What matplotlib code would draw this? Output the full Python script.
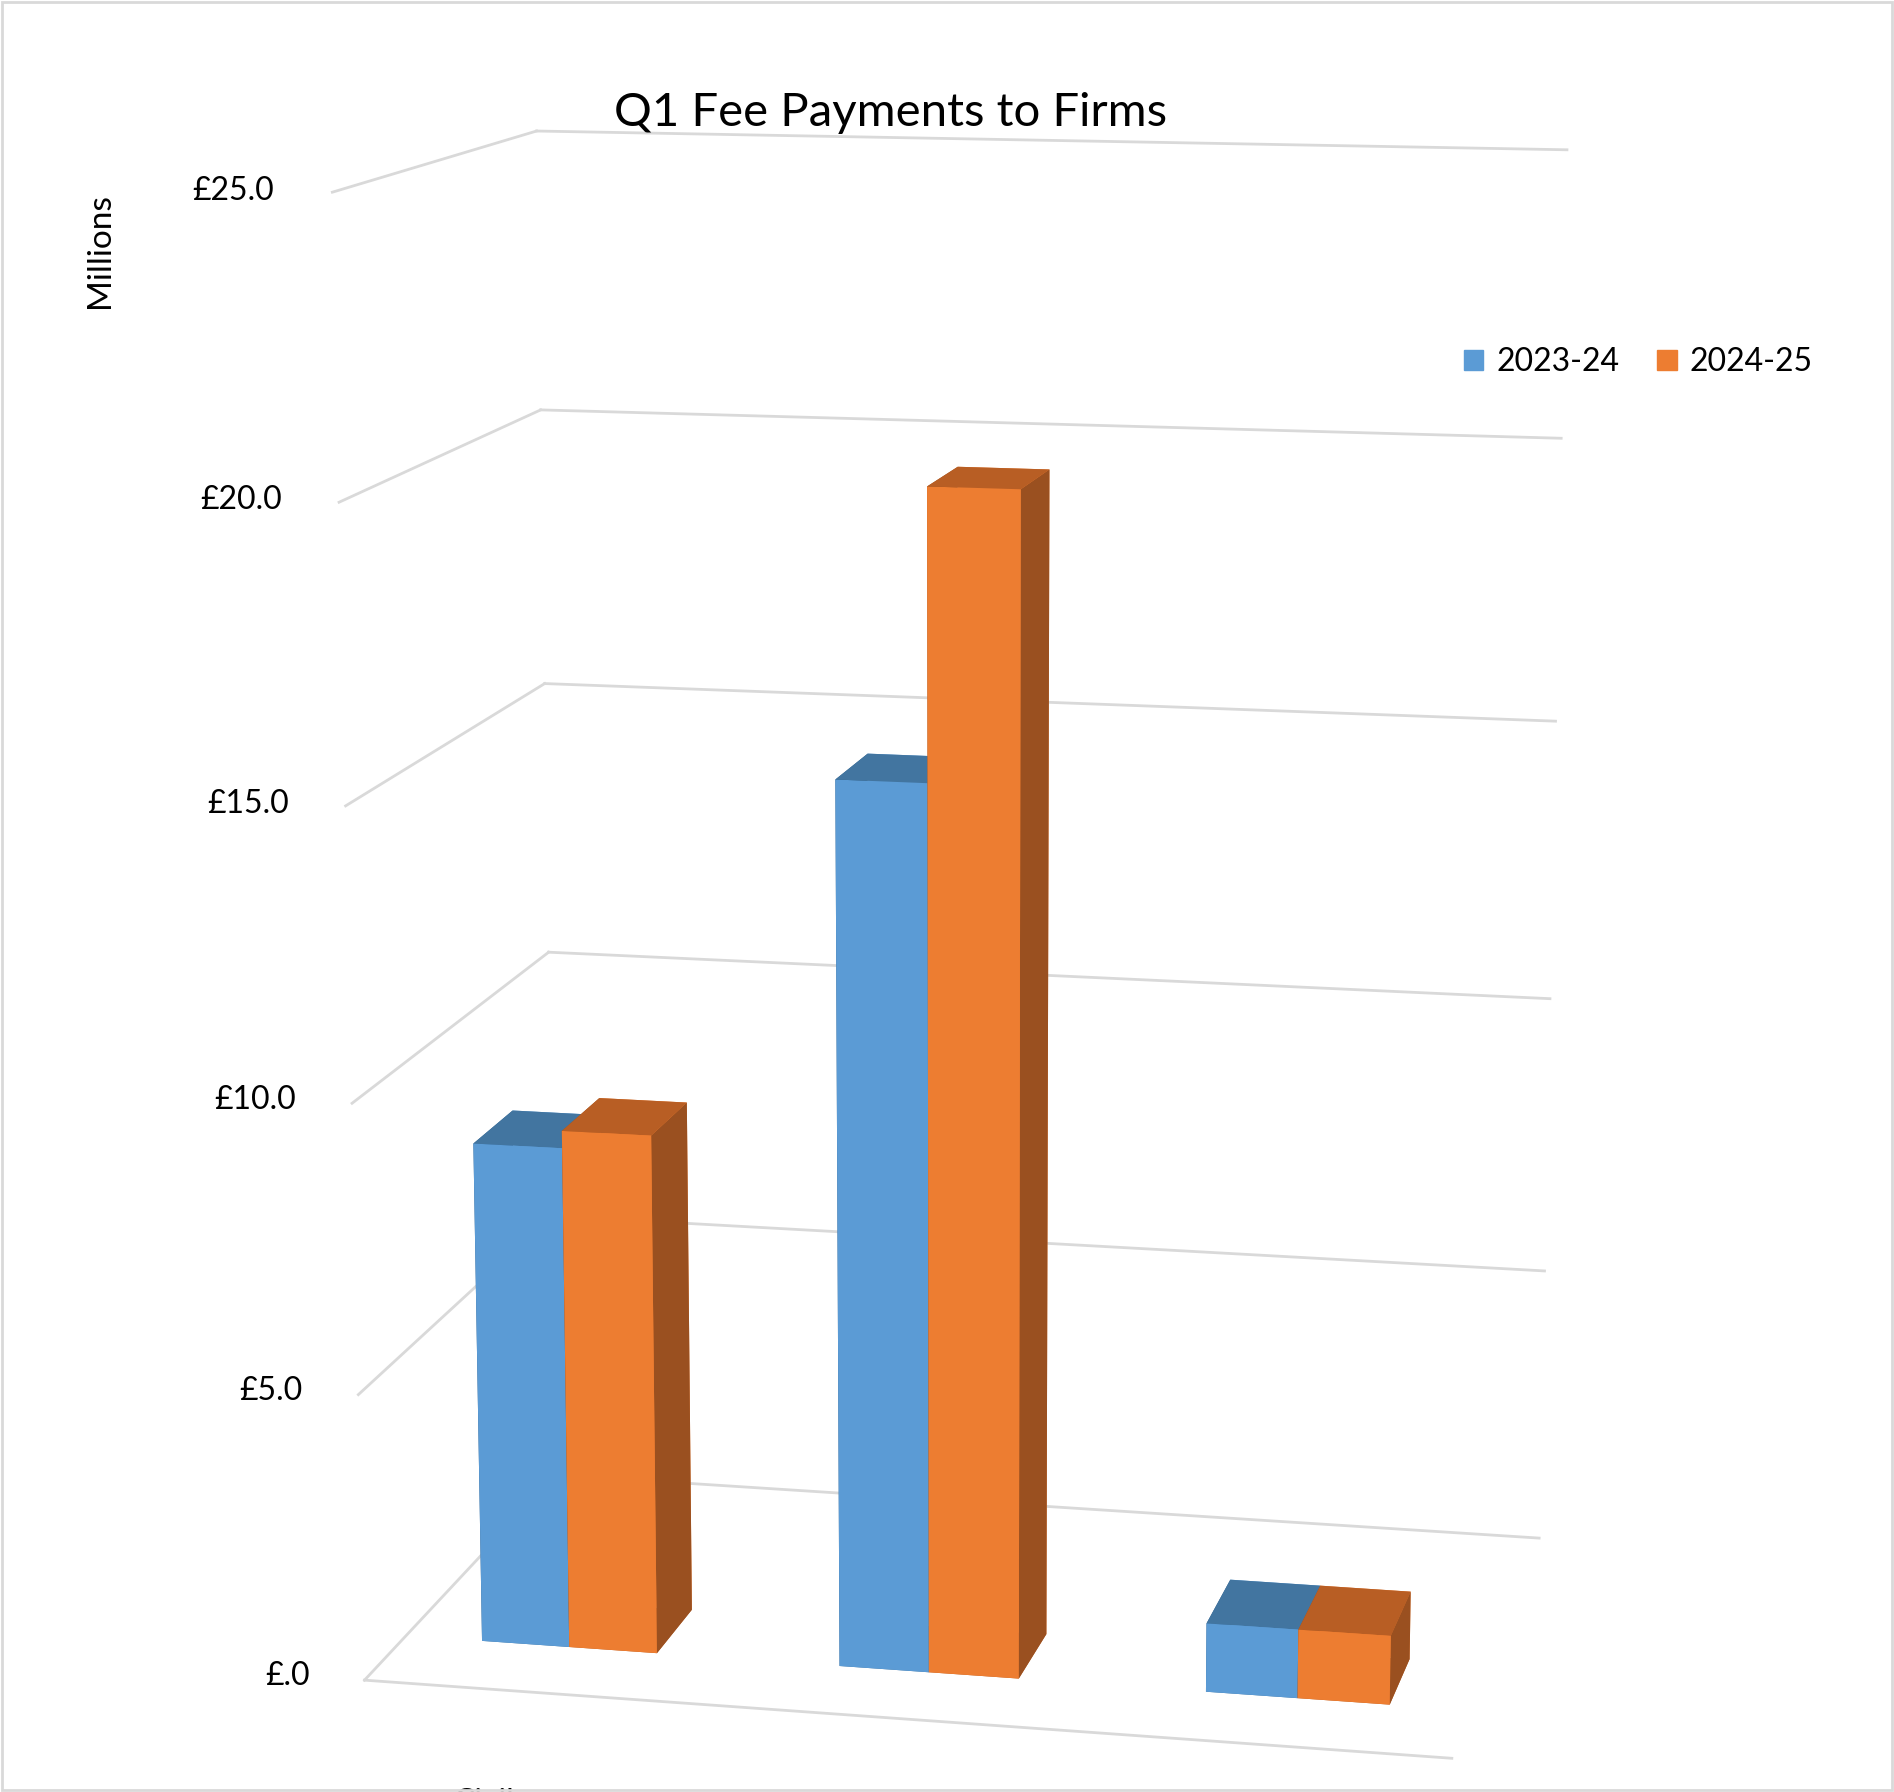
import matplotlib
matplotlib.use("Agg")
import matplotlib.pyplot as plt
import numpy as np

categories = ["Civil", "Criminal", "Children's"]
series = ["2023-24", "2024-25"]
v2023 = [8.8, 15.3, 1.2]
v2025 = [9.1, 20.2, 1.2]
yticks = [0, 5, 10, 15, 20, 25]
ytick_labels = ["£.0", "£5.0", "£10.0", "£15.0", "£20.0", "£25.0"]
colors = ["#5B9BD5", "#ED7D31"]
tops = ["#4275A0", "#B85E24"]
sides = ["#2F5F8A", "#9A5020"]

plt.rcParams['font.family'] = ['Lato', 'DejaVu Sans']
fig = plt.figure(figsize=(18.94, 17.92), dpi=100)
ax = fig.add_axes([0.0, -0.08, 1.0, 1.12], projection='3d', proj_type='persp', focal_length=0.6)
ax.view_init(elev=12, azim=-78)
ax.set_axis_off()

w, d = 0.32, 0.3
xs = np.arange(len(categories)) * 1.3
for i, vals in enumerate([v2023, v2025]):
    fc = [tops[i], tops[i], colors[i], colors[i], sides[i], sides[i]]
    for j, v in enumerate(vals):
        ax.bar3d(xs[j] - w + i * w, 0, 0, w, d, v, color=fc, shade=False, edgecolor='none')

xmin, xmax = -0.6, xs[-1] + 0.6
ymin, ymax = -0.3, 1.2
gc = "#D9D9D9"
for t, lab in zip(yticks, ytick_labels):
    ax.plot([xmin, xmin], [ymin, ymax], [t, t], color=gc, lw=2)
    ax.plot([xmin, xmax], [ymax, ymax], [t, t], color=gc, lw=2)
    ax.text(xmin - 0.2, ymin, t, lab, fontsize=23, ha='right', va='center')
ax.plot([xmin, xmax], [ymin, ymin], [0, 0], color=gc, lw=2)
for j, c in enumerate(categories):
    ax.text(xs[j] - 0.1, ymin - 0.15, -1.3, c, fontsize=23, ha='center', va='top')
ax.set_xlim(xmin, xmax); ax.set_ylim(ymin, ymax); ax.set_zlim(0, 25)
ax.set_box_aspect((1.4, 0.9, 1.9))

fig.text(0.47, 0.937, "Q1 Fee Payments to Firms", fontsize=34, ha='center', va='center')
fig.text(0.053, 0.86, "Millions", fontsize=24, rotation=90, ha='center', va='center')
from matplotlib.patches import Patch
fig.legend(handles=[Patch(color=c, label=s) for c, s in zip(colors, series)],
           loc='center', bbox_to_anchor=(0.865, 0.798), ncol=2, frameon=False,
           fontsize=23, handlelength=0.6, handleheight=0.6, columnspacing=1.2, handletextpad=0.4)
fig.patches.append(plt.Rectangle((0.001, 0.001), 0.998, 0.998, transform=fig.transFigure,
                                 fill=False, edgecolor="#D9D9D9", lw=2))
fig.savefig("out.png", dpi=100)
